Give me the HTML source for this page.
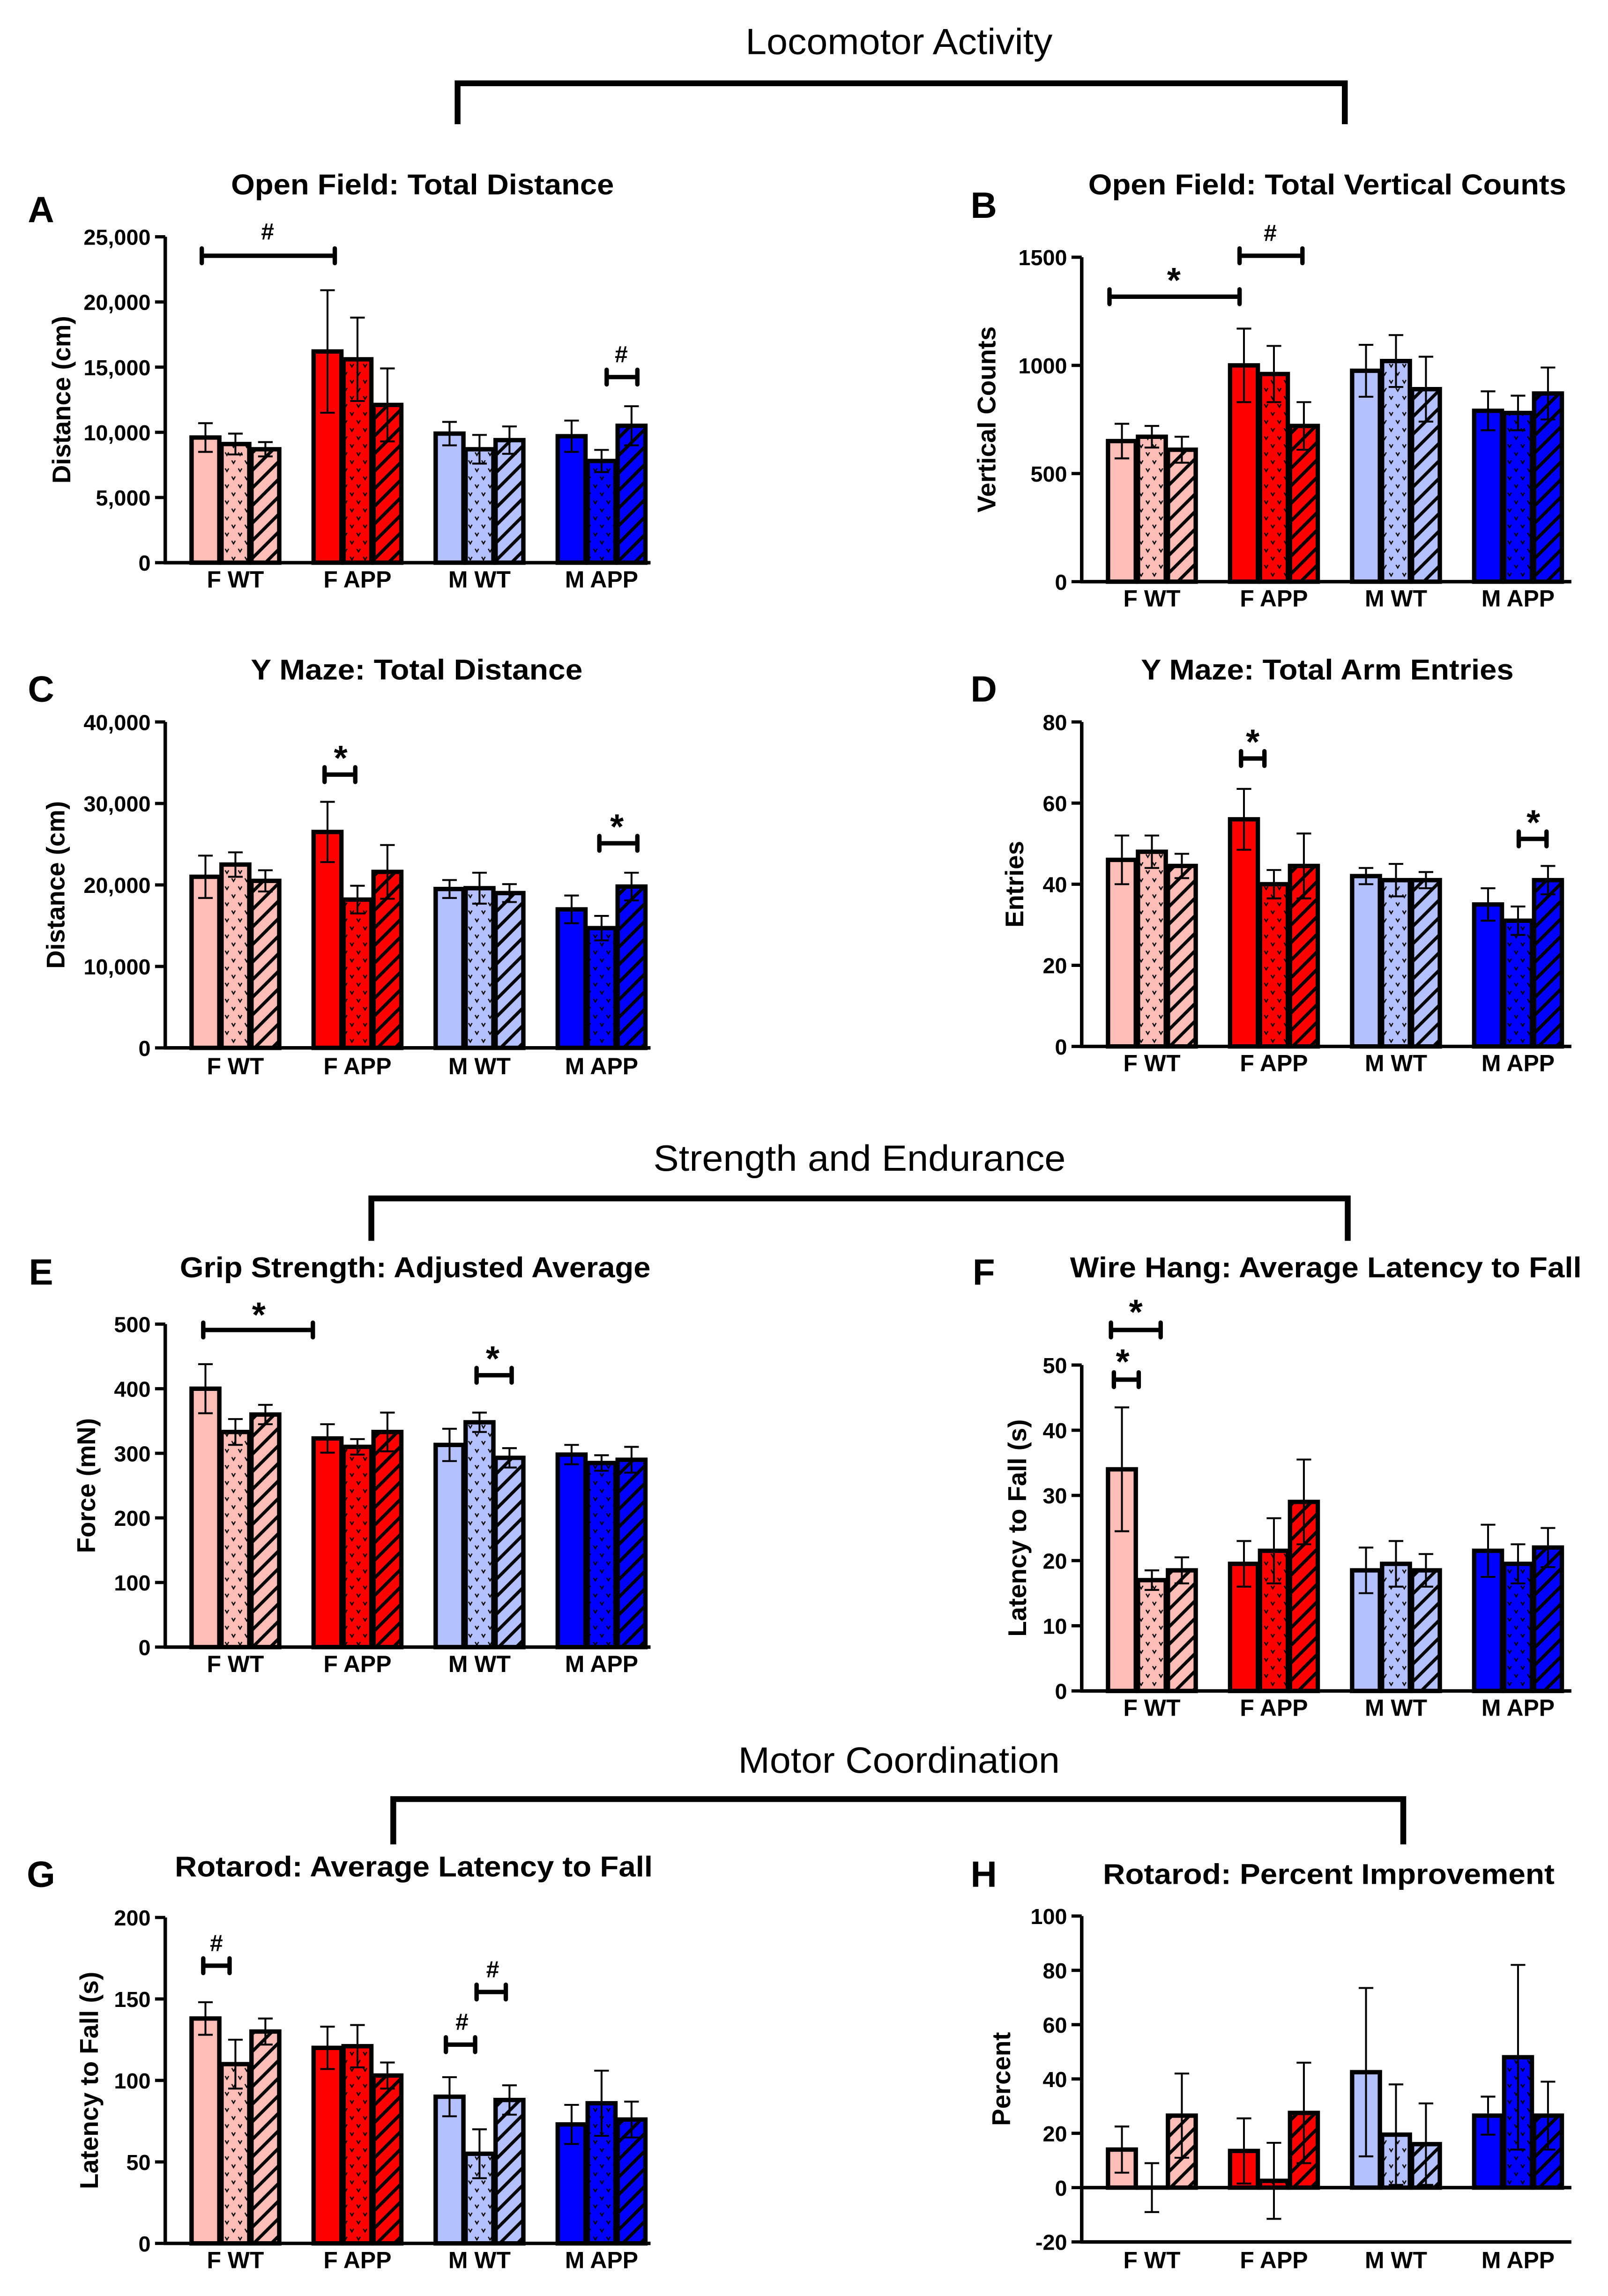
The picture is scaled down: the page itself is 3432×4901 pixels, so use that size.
<!DOCTYPE html>
<html><head><meta charset="utf-8">
<style>
html,body{margin:0;padding:0;background:#fff;}
svg{display:block;}
text{font-family:"Liberation Sans",sans-serif;fill:#000;}
</style></head>
<body>
<svg id="fig" xmlns="http://www.w3.org/2000/svg" width="3432" height="4901" viewBox="0 0 1100 1571">
<defs>
</defs>
</svg>
<script>
// ---------- data ----------
const groups = ["F WT","F APP","M WT","M APP"];
const colors = ["#ffbdb8","#ff0000","#b5c1ff","#0000ff"];

const aTicks = ["0","5,000","10,000","15,000","20,000","25,000"];
const aMeans = [9600,9100,8700, 16200,15600,12100, 9900,8700,9400, 9700,7800,10500];
const aErrs  = [1100,800,550, 4700,3200,2800, 900,1100,1050, 1200,850,1500];

const bTicks = ["0","500","1000","1500"];
const bMeans = [650,670,610, 1000,960,720, 975,1020,890, 790,780,870];
const bErrs  = [80,50,60, 170,130,110, 120,120,150, 90,80,120];

const cTicks = ["0","10,000","20,000","30,000","40,000"];
const cMeans = [21000,22500,20500, 26500,18200,21600, 19500,19600,19000, 17000,14700,19800];
const cErrs  = [2600,1500,1300, 3700,1700,3300, 1100,1900,1100, 1700,1500,1700];

const dTicks = ["0","20","40","60","80"];
const dMeans = [46,48,44.5, 56,40,44.5, 42,41,41, 35,31,41];
const dErrs  = [6,4,3, 7.5,3.5,8, 2,4,2, 4,3.5,3.5];

const eTicks = ["0","100","200","300","400","500"];
const eMeans = [400,333,360, 323,310,333, 313,348,293, 298,285,290];
const eErrs  = [38,20,15, 22,12,30, 25,15,15, 15,12,20];

const fTicks = ["0","10","20","30","40","50"];
const fMeans = [34,17,18.5, 19.5,21.5,29, 18.5,19.5,18.5, 21.5,19.5,22];
const fErrs  = [9.5,1.5,2, 3.5,5,6.5, 3.5,3.5,2.5, 4,3,3];

const gTicks = ["0","50","100","150","200"];
const gMeans = [138,110,130, 120,121,103, 90,55,88, 73,86,76];
const gErrs  = [10,15,8, 13,13,8, 12,15,9, 12,20,11];

const hTicks = ["-20","0","20","40","60","80","100"];
const hMeans = [14,0,26.5, 13.5,2.5,27.5, 42.5,19.5,16, 26.5,48,26.5];
const hErrs  = [8.5,9,15.5, 12,14,18.5, 31,18.5,15, 7,34,12.5];

// ---------- helpers ----------
const NS="http://www.w3.org/2000/svg";
const svg=document.getElementById('fig');
const defs=svg.querySelector('defs');
function mk(tag,attrs,parent){const e=document.createElementNS(NS,tag);for(const k in attrs)e.setAttribute(k,attrs[k]);(parent||svg).appendChild(e);return e;}

colors.forEach((c,i)=>{
  const p=mk('pattern',{id:'dot'+i,width:9,height:11,patternUnits:'userSpaceOnUse'},defs);
  mk('rect',{width:9,height:11,fill:c},p);
  mk('path',{d:'M1,1.5 L2.2,3.6 L3.4,1.5 M5.5,7 L6.7,9.1 L7.9,7',stroke:'#000','stroke-width':0.8,fill:'none'},p);
  const h=mk('pattern',{id:'hat'+i,width:8.5,height:8.5,patternUnits:'userSpaceOnUse',patternTransform:'rotate(45)'},defs);
  mk('rect',{width:8.5,height:8.5,fill:c},h);
  mk('rect',{x:0,y:0,width:2.2,height:8.5,fill:'#000'},h);
});

function txt(x,y,s,size,opts){
  const t=mk('text',Object.assign({x:x,y:y,'font-size':size,'font-weight':'bold','text-anchor':'middle'},opts||{}));
  t.textContent=s;return t;
}

function panel(cfg){
  const g=mk('g',{});
  
  
  const {ax,top,bot,xend,min,max,ticks,means,errs}=cfg;
  const y=v=>bot-(v-min)/(max-min)*(bot-top);
  const y0=y(0);
  const tt=txt(cfg.tx,cfg.ty,cfg.title,19.5,{textLength:cfg.tl,lengthAdjust:'spacingAndGlyphs'});
  g.appendChild(tt);
  
  
  const lt=txt(cfg.lx,cfg.ly,cfg.letter,25);g.appendChild(lt);
  
  
  const yl=txt(0,0,cfg.ylab,17.5,{transform:`translate(${cfg.ylx},${(top+bot)/2}) rotate(-90)`});g.appendChild(yl);
  
  
  means.forEach((m,i)=>{
    const gi=Math.floor(i/3),k=i%3;
    const cx=ax+48+gi*83.5+(k-1)*20.5;
    const w=19;
    const yt=y(m);
    const fill=k==0?colors[gi]:(k==1?`url(#dot${gi})`:`url(#hat${gi})`);
    const r=mk('rect',{x:cx-w/2,y:Math.min(yt,y0),width:w,height:Math.max(Math.abs(y0-yt),0.01),fill:fill,stroke:'#000','stroke-width':3},g);
    
    
    const e=errs[i];
    const eb=mk('path',{d:`M${cx},${y(m-e)}V${y(m+e)}M${cx-5},${y(m+e)}H${cx+5}M${cx-5},${y(m-e)}H${cx+5}`,stroke:'#000','stroke-width':1.3,fill:'none'},g);
    
    
  });
  const ya=mk('path',{d:`M${ax},${top}V${bot}`,stroke:'#000','stroke-width':2.4},g);
  
  
  const xa=mk('path',{d:`M${ax-1},${y0}H${xend}`,stroke:'#000','stroke-width':2.4},g);
  
  
  if(min<0){mk('path',{d:`M${ax-1},${bot}H${xend}`,stroke:'#000','stroke-width':2.4},g);}
  ticks.forEach((t,i)=>{
    const v=parseFloat(t.replace(/,/g,''));
    const yy=y(v);
    mk('path',{d:`M${ax-7},${yy}H${ax}`,stroke:'#000','stroke-width':2.2},g);
    const tl=txt(ax-10,yy+5.5,t,15,{'text-anchor':'end'});g.appendChild(tl);
    
    
  });
  groups.forEach((s,gi)=>{
    const cx=ax+48+gi*83.5;
    const gl=txt(cx,cfg.gly,s,16);g.appendChild(gl);
    
    
  });
  (cfg.sig||[]).forEach(s=>{
    const [x1,x2,yy,sym,sx,sy]=s;
    const b=mk('path',{d:`M${x1},${yy}H${x2}M${x1},${yy-5}V${yy+5}M${x2},${yy-5}V${yy+5}`,stroke:'#000','stroke-width':3,'stroke-linecap':'round',fill:'none'},g);
    
    
    const st=txt(sx,sy,sym,sym=='*'?24:16,{});g.appendChild(st);
    
    
  });
}

function section(label,x,y,tl,bx1,bx2,by,bd){
  const t=mk('text',{x:x,y:y,'font-size':25,'text-anchor':'middle',textLength:tl,lengthAdjust:'spacingAndGlyphs'});
  t.textContent=label;
  
  
  const b=mk('path',{d:`M${bx1},${bd}V${by}H${bx2}V${bd}`,stroke:'#000','stroke-width':4,fill:'none'});
  
  
}

section('Locomotor Activity',615,37,210,313,920,57,85);
section('Strength and Endurance',588,801,282,254,922,820,849);
section('Motor Coordination',615,1213,220,269,960,1231,1262);

panel({name:'panel-a-open-field-distance',title:'Open Field: Total Distance',tx:289,ty:133,tl:262,letter:'A',lx:28,ly:152,ylab:'Distance (cm)',ylx:48,
  ax:113,top:162,bot:385,xend:445,min:0,max:25000,ticks:aTicks,means:aMeans,errs:aErrs,gly:402,
  sig:[[138,229,175,'#',183,164],[415,436,258,'#',425,248]]});
panel({name:'panel-b-open-field-vertical',title:'Open Field: Total Vertical Counts',tx:908,ty:133,tl:327,letter:'B',lx:673,ly:149,ylab:'Vertical Counts',ylx:681,
  ax:740,top:176,bot:398,xend:1075,min:0,max:1500,ticks:bTicks,means:bMeans,errs:bErrs,gly:415,
  sig:[[759,848,203,'*',803,200],[848,891,175,'#',869,165]]});
panel({name:'panel-c-ymaze-distance',title:'Y Maze: Total Distance',tx:285,ty:465,tl:227,letter:'C',lx:28,ly:480,ylab:'Distance (cm)',ylx:44,
  ax:113,top:494,bot:717,xend:445,min:0,max:40000,ticks:cTicks,means:cMeans,errs:cErrs,gly:735,
  sig:[[222,243,530,'*',233,527],[410,436,577,'*',422,574]]});
panel({name:'panel-d-ymaze-entries',title:'Y Maze: Total Arm Entries',tx:908,ty:465,tl:255,letter:'D',lx:673,ly:480,ylab:'Entries',ylx:700,
  ax:740,top:494,bot:716,xend:1075,min:0,max:80,ticks:dTicks,means:dMeans,errs:dErrs,gly:733,
  sig:[[849,865,519,'*',857,516],[1039,1058,574,'*',1049,571]]});
panel({name:'panel-e-grip-strength',title:'Grip Strength: Adjusted Average',tx:284,ty:874,tl:322,letter:'E',lx:28,ly:879,ylab:'Force (mN)',ylx:65,
  ax:113,top:906,bot:1127,xend:445,min:0,max:500,ticks:eTicks,means:eMeans,errs:eErrs,gly:1144,
  sig:[[139,214,910,'*',177,908],[326,350,941,'*',337,938]]});
panel({name:'panel-f-wire-hang',title:'Wire Hang: Average Latency to Fall',tx:907,ty:874,tl:350,letter:'F',lx:673,ly:879,ylab:'Latency to Fall (s)',ylx:702,
  ax:740,top:934,bot:1157,xend:1075,min:0,max:50,ticks:fTicks,means:fMeans,errs:fErrs,gly:1174,
  sig:[[760,794,910,'*',777,906],[762,779,944,'*',768,940]]});
panel({name:'panel-g-rotarod-latency',title:'Rotarod: Average Latency to Fall',tx:283,ty:1284,tl:327,letter:'G',lx:28,ly:1291,ylab:'Latency to Fall (s)',ylx:67,
  ax:113,top:1312,bot:1535,xend:445,min:0,max:200,ticks:gTicks,means:gMeans,errs:gErrs,gly:1552,
  sig:[[139,157,1345,'#',148,1335],[305,325,1399,'#',316,1389],[326,346,1363,'#',337,1353]]});
panel({name:'panel-h-rotarod-improvement',title:'Rotarod: Percent Improvement',tx:909,ty:1289,tl:309,letter:'H',lx:673,ly:1291,ylab:'Percent',ylx:691,
  ax:740,top:1311,bot:1534,xend:1075,min:-20,max:100,ticks:hTicks,means:hMeans,errs:hErrs,gly:1552,sig:[]});
</script>
</body></html>
